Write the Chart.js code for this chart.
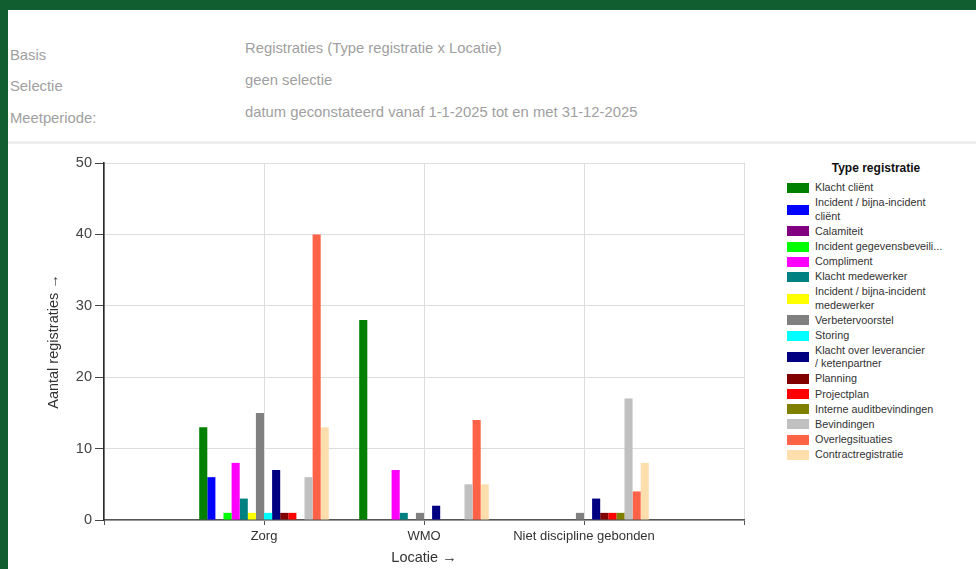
<!DOCTYPE html>
<html>
<head>
<meta charset="utf-8">
<script src="https://cdn.jsdelivr.net/npm/chart.js@4.4.1/dist/chart.umd.min.js"></script>
<style>
  html, body { margin: 0; padding: 0; }
  body { width: 976px; height: 569px; background: #115f30; position: relative; overflow: hidden;
         font-family: "Liberation Sans", Arial, sans-serif; }
  #panel { position: absolute; left: 8px; top: 10px; right: 0; bottom: 0; background: #fff; }
  .hdr { position: absolute; font-size: 14.8px; line-height: 16px; color: #a0a0a0; white-space: nowrap; }
  #sep { position: absolute; left: 8px; right: 0; top: 141px; height: 3px; background: #eeeeee; }
  #chartBox { position: absolute; left: 8px; top: 145px; width: 768px; height: 424px; }
  #legendTitle { position: absolute; left: 776px; width: 200px; top: 161px; text-align: center;
                 font-size: 12px; line-height: 14px; font-weight: bold; color: #111; }
  #legend { position: absolute; left: 787px; top: 181px; width: 185px; }
  .item { display: flex; align-items: center; margin-bottom: 1.6px; }
  .box { width: 22px; height: 10px; flex: none; }
  .txt { margin-left: 6px; font-size: 10.8px; line-height: 13.5px; color: #333; white-space: pre-line; }
</style>
</head>
<body>
<div id="panel"></div>
<div class="hdr" style="left:10px; top:47px">Basis</div>
<div class="hdr" style="left:10px; top:78px">Selectie</div>
<div class="hdr" style="left:10px; top:110px">Meetperiode:</div>
<div class="hdr" style="left:245px; top:40px">Registraties (Type registratie x Locatie)</div>
<div class="hdr" style="left:245px; top:72px">geen selectie</div>
<div class="hdr" style="left:245px; top:104px">datum geconstateerd vanaf 1-1-2025 tot en met 31-12-2025</div>
<div id="sep"></div>
<div id="chartBox"><canvas id="chart"></canvas></div>
<div id="legendTitle">Type registratie</div>
<div id="legend"></div>

<script>
const locaties = ['Zorg', 'WMO', 'Niet discipline gebonden'];

const typeLabels = [
  'Klacht cliënt',
  'Incident / bijna-incident\ncliënt',
  'Calamiteit',
  'Incident gegevensbeveili...',
  'Compliment',
  'Klacht medewerker',
  'Incident / bijna-incident\nmedewerker',
  'Verbetervoorstel',
  'Storing',
  'Klacht over leverancier\n/ ketenpartner',
  'Planning',
  'Projectplan',
  'Interne auditbevindingen',
  'Bevindingen',
  'Overlegsituaties',
  'Contractregistratie',
];

const typeColors = [
  '#008000', '#0000ff', '#800080', '#00ff00', '#ff00ff', '#008080', '#ffff00', '#808080',
  '#00ffff', '#000080', '#800000', '#ff0000', '#808000', '#c0c0c0', '#ff6347', '#ffdead',
];

// values per location, in the order of typeLabels
const zorg           = [13, 6, 0, 1, 8, 3, 1, 15, 1, 7, 1, 1, 0, 6, 40, 13];
const wmo            = [28, 0, 0, 0, 7, 1, 0,  1, 0, 2, 0, 0, 0, 5, 14,  5];
const nietDiscipline = [ 0, 0, 0, 0, 0, 0, 0,  1, 0, 3, 1, 1, 1, 17, 4,  8];

const yTicks = [0, 10, 20, 30, 40, 50];

// empty slots left and right of the three locations
const xLabels = ['', ...locaties, ''];

const datasets = typeLabels.map((label, i) => ({
  label: label.replace('\n', ' '),
  data: [null, zorg[i], wmo[i], nietDiscipline[i], null],
  backgroundColor: typeColors[i],
  borderWidth: 0,
}));

// HTML legend
const legendEl = document.getElementById('legend');
legendEl.innerHTML = typeLabels.map((l, i) => `
  <div class="item">
    <div class="box" style="background:${typeColors[i]}"></div>
    <div class="txt">${l}</div>
  </div>
`).join('');

Chart.defaults.font.family = '"Liberation Sans", Arial, sans-serif';

new Chart(document.getElementById('chart'), {
  type: 'bar',
  data: { labels: xLabels, datasets },
  options: {
    responsive: true,
    maintainAspectRatio: false,
    animation: false,
    categoryPercentage: 0.81,
    barPercentage: 1,
    layout: { padding: { left: 30, right: 32, top: 18, bottom: 0 } },
    plugins: { legend: { display: false }, tooltip: { enabled: false } },
    scales: {
      x: {
        offset: false,
        grid: { offset: false, color: '#dddddd', tickColor: '#555', tickLength: 5 },
        border: { color: '#555', width: 1.5 },
        ticks: { color: '#333', font: { size: 13 }, padding: 4, maxRotation: 0, autoSkip: false },
        title: { display: true, text: 'Locatie →', color: '#333', font: { size: 14.5 }, padding: { top: 0, bottom: 2 } },
        afterFit: s => { s.height = 49; },
      },
      y: {
        min: 0,
        max: 50,
        afterBuildTicks: s => { s.ticks = yTicks.map(v => ({ value: v })); },
        ticks: { color: '#444', font: { size: 14.5 }, padding: 3 },
        grid: { color: '#dddddd', tickColor: '#444', tickLength: 9 },
        border: { color: '#2a2a2a', width: 1.6 },
        title: { display: true, text: 'Aantal registraties →', color: '#333', font: { size: 14.5 }, padding: { top: 7, bottom: 0 } },
        afterFit: s => { s.width = 66; },
      },
    },
  },
});
</script>
</body>
</html>
